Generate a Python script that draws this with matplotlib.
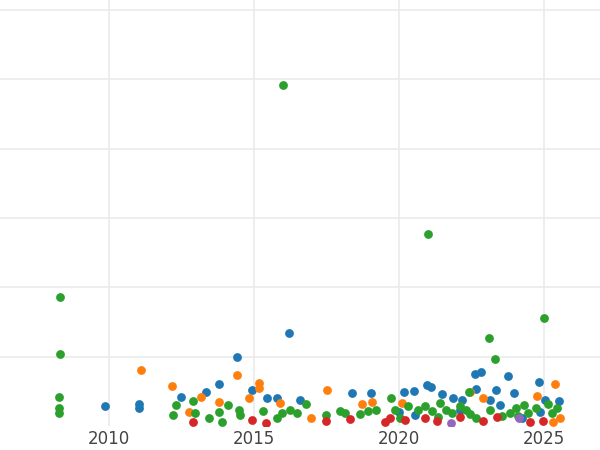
import matplotlib
matplotlib.use("Agg")
import matplotlib.pyplot as plt

blue_x = [2009.86,2011.03,2011.03,2012.48,2013.34,2013.79,2014.93,2015.45,2015.8,2016.59,2018.38,2019.03,2020.17,2020.52,2020.97,2021.1,2021.48,2021.86,2022.17,2022.62,2022.83,2022.66,2023.34,2023.76,2023.97,2024.83,2025.52,2025.03,2023.14,2023.48,2016.2,2014.4,2020.0,2020.55,2022.1,2024.24,2024.86]
blue_y = [0.29,0.32,0.26,0.42,0.49,0.61,0.52,0.40,0.40,0.38,0.48,0.48,0.49,0.51,0.59,0.56,0.46,0.40,0.38,0.75,0.78,0.53,0.52,0.72,0.48,0.63,0.36,0.38,0.38,0.30,1.34,1.0,0.20,0.16,0.23,0.12,0.20]
orange_x = [2011.1,2014.4,2012.17,2013.17,2012.76,2013.79,2014.83,2015.17,2015.17,2015.9,2016.97,2017.52,2018.72,2019.07,2020.1,2022.45,2022.9,2024.76,2025.38,2025.55,2025.31]
orange_y = [0.81,0.74,0.58,0.42,0.20,0.35,0.40,0.62,0.55,0.33,0.12,0.52,0.32,0.35,0.33,0.49,0.40,0.43,0.61,0.12,0.06]
green_x = [2008.3,2008.3,2016.0,2021.0,2025.0,2023.1,2023.3,2008.28,2008.28,2008.28,2012.2,2012.3,2012.9,2012.97,2013.45,2013.79,2013.9,2014.1,2014.48,2014.52,2015.31,2015.8,2015.97,2016.24,2016.48,2016.79,2017.48,2017.97,2018.14,2018.66,2018.93,2019.2,2019.72,2019.86,2020.03,2020.31,2020.66,2020.9,2021.14,2021.41,2021.62,2021.83,2022.1,2022.31,2022.45,2022.4,2023.14,2023.55,2023.83,2024.03,2024.31,2024.45,2024.72,2025.14,2025.28,2025.45,2024.1,2022.66,2021.34]
green_y = [1.86,1.04,4.92,2.77,1.56,1.27,0.97,0.42,0.26,0.19,0.16,0.30,0.36,0.19,0.12,0.20,0.06,0.30,0.23,0.16,0.22,0.12,0.19,0.23,0.19,0.32,0.16,0.22,0.19,0.17,0.22,0.23,0.40,0.23,0.12,0.29,0.23,0.29,0.22,0.33,0.23,0.19,0.29,0.23,0.17,0.49,0.23,0.14,0.19,0.26,0.30,0.19,0.26,0.32,0.19,0.26,0.14,0.12,0.13]
red_x = [2012.9,2014.93,2015.41,2017.48,2018.31,2019.52,2020.2,2020.9,2021.31,2022.1,2022.9,2023.38,2024.52,2024.97,2019.7]
red_y = [0.06,0.09,0.04,0.07,0.10,0.06,0.09,0.12,0.07,0.13,0.07,0.13,0.06,0.07,0.12]
purple_x = [2021.79,2024.14]
purple_y = [0.04,0.12]

fig = plt.figure(figsize=(6, 4.5), dpi=100)
ax = fig.add_axes([0, 24/450, 1, 426/450])
for xs, ys, c in [(blue_x, blue_y, "#1f77b4"), (orange_x, orange_y, "#ff7f0e"),
                  (green_x, green_y, "#2ca02c"), (red_x, red_y, "#d62728"),
                  (purple_x, purple_y, "#9467bd")]:
    ax.scatter(xs, ys, s=40, color=c, zorder=3, linewidths=0)
ax.set_xlim(2006.24, 2026.93)
ax.set_ylim(0, 6.147)
ax.set_xticks([2010, 2015, 2020, 2025])
ax.set_yticks([1, 2, 3, 4, 5, 6])
ax.set_yticklabels([])
ax.grid(True, color="#ebebeb", linewidth=1.2, zorder=0)
for s in ax.spines.values():
    s.set_visible(False)
ax.tick_params(axis="x", length=0, labelsize=12, labelcolor="#444444", pad=3)
ax.tick_params(axis="y", length=0)
fig.savefig("out.png", dpi=100)
